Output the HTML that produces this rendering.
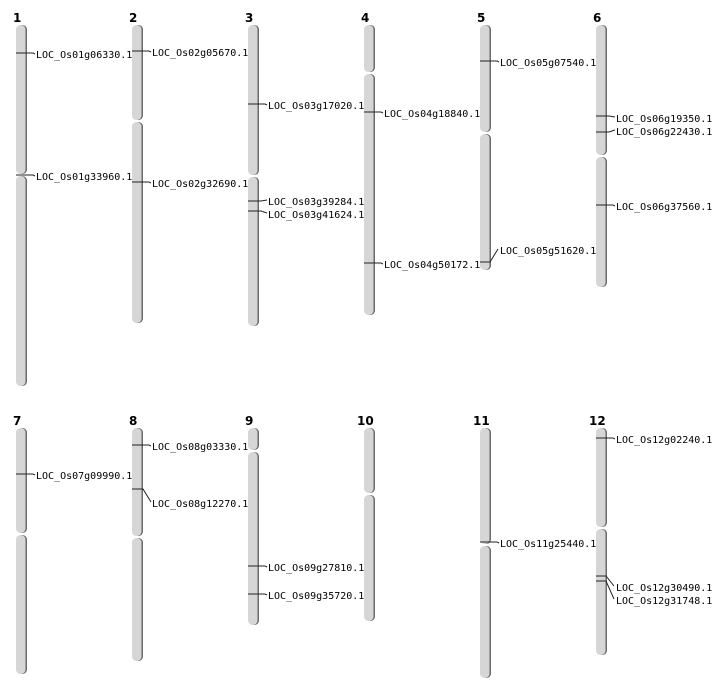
<!DOCTYPE html>
<html><head><meta charset="utf-8"><style>
html,body{margin:0;padding:0;background:#fff;width:712px;height:700px;overflow:hidden}
text{font-family:"DejaVu Sans Mono","Liberation Mono",monospace;font-size:10px;fill:#000}
.n{font-family:"DejaVu Sans","Liberation Sans",sans-serif;font-weight:bold;font-size:12px}
.s{fill:#6a6a6a}.c{fill:#d6d6d6}
polyline{fill:none;stroke:#222;stroke-width:1}
</style></head><body>
<svg width="712" height="700" xmlns="http://www.w3.org/2000/svg">
<g id="chroms">
<!-- row1 -->
<rect class="s" x="17.5" y="25" width="9.5" height="149" rx="4.5"/><rect class="c" x="16" y="25" width="9.5" height="149" rx="4.5"/>
<rect class="s" x="17.5" y="176" width="9.5" height="210" rx="4.5"/><rect class="c" x="16" y="176" width="9.5" height="210" rx="4.5"/>
<rect class="s" x="133.5" y="25" width="9.5" height="95" rx="4.5"/><rect class="c" x="132" y="25" width="9.5" height="95" rx="4.5"/>
<rect class="s" x="133.5" y="122" width="9.5" height="201" rx="4.5"/><rect class="c" x="132" y="122" width="9.5" height="201" rx="4.5"/>
<rect class="s" x="249.5" y="25" width="9.5" height="150" rx="4.5"/><rect class="c" x="248" y="25" width="9.5" height="150" rx="4.5"/>
<rect class="s" x="249.5" y="177" width="9.5" height="149" rx="4.5"/><rect class="c" x="248" y="177" width="9.5" height="149" rx="4.5"/>
<rect class="s" x="365.5" y="25" width="9.5" height="47" rx="4.5"/><rect class="c" x="364" y="25" width="9.5" height="47" rx="4.5"/>
<rect class="s" x="365.5" y="74" width="9.5" height="241" rx="4.5"/><rect class="c" x="364" y="74" width="9.5" height="241" rx="4.5"/>
<rect class="s" x="481.5" y="25" width="9.5" height="107" rx="4.5"/><rect class="c" x="480" y="25" width="9.5" height="107" rx="4.5"/>
<rect class="s" x="481.5" y="134" width="9.5" height="136" rx="4.5"/><rect class="c" x="480" y="134" width="9.5" height="136" rx="4.5"/>
<rect class="s" x="597.5" y="25" width="9.5" height="130" rx="4.5"/><rect class="c" x="596" y="25" width="9.5" height="130" rx="4.5"/>
<rect class="s" x="597.5" y="157" width="9.5" height="130" rx="4.5"/><rect class="c" x="596" y="157" width="9.5" height="130" rx="4.5"/>
<!-- row2 -->
<rect class="s" x="17.5" y="428" width="9.5" height="105" rx="4.5"/><rect class="c" x="16" y="428" width="9.5" height="105" rx="4.5"/>
<rect class="s" x="17.5" y="535" width="9.5" height="139" rx="4.5"/><rect class="c" x="16" y="535" width="9.5" height="139" rx="4.5"/>
<rect class="s" x="133.5" y="428" width="9.5" height="108" rx="4.5"/><rect class="c" x="132" y="428" width="9.5" height="108" rx="4.5"/>
<rect class="s" x="133.5" y="538" width="9.5" height="123" rx="4.5"/><rect class="c" x="132" y="538" width="9.5" height="123" rx="4.5"/>
<rect class="s" x="249.5" y="428" width="9.5" height="22" rx="4.5"/><rect class="c" x="248" y="428" width="9.5" height="22" rx="4.5"/>
<rect class="s" x="249.5" y="452" width="9.5" height="173" rx="4.5"/><rect class="c" x="248" y="452" width="9.5" height="173" rx="4.5"/>
<rect class="s" x="365.5" y="428" width="9.5" height="65" rx="4.5"/><rect class="c" x="364" y="428" width="9.5" height="65" rx="4.5"/>
<rect class="s" x="365.5" y="495" width="9.5" height="126" rx="4.5"/><rect class="c" x="364" y="495" width="9.5" height="126" rx="4.5"/>
<rect class="s" x="481.5" y="428" width="9.5" height="116" rx="4.5"/><rect class="c" x="480" y="428" width="9.5" height="116" rx="4.5"/>
<rect class="s" x="481.5" y="546" width="9.5" height="132" rx="4.5"/><rect class="c" x="480" y="546" width="9.5" height="132" rx="4.5"/>
<rect class="s" x="597.5" y="428" width="9.5" height="99" rx="4.5"/><rect class="c" x="596" y="428" width="9.5" height="99" rx="4.5"/>
<rect class="s" x="597.5" y="529" width="9.5" height="126" rx="4.5"/><rect class="c" x="596" y="529" width="9.5" height="126" rx="4.5"/>
</g>
<text class="n" x="13" y="22">1</text><text class="n" x="129" y="22">2</text><text class="n" x="245" y="22">3</text>
<text class="n" x="361" y="22">4</text><text class="n" x="477" y="22">5</text><text class="n" x="593" y="22">6</text>
<text class="n" x="13" y="425">7</text><text class="n" x="129" y="425">8</text><text class="n" x="245" y="425">9</text>
<text class="n" x="357" y="425">10</text><text class="n" x="473" y="425">11</text><text class="n" x="589" y="425">12</text>

<polyline points="16,53 33,53 35,54"/><text x="36" y="58">LOC_Os01g06330.1</text>
<polyline points="16,175 33,175 35,176"/><text x="36" y="180">LOC_Os01g33960.1</text>
<polyline points="132,51 149,51 151,52"/><text x="152" y="56">LOC_Os02g05670.1</text>
<polyline points="132,182 149,182 151,183"/><text x="152" y="187">LOC_Os02g32690.1</text>
<polyline points="248,104 265,104 267,105"/><text x="268" y="109">LOC_Os03g17020.1</text>
<polyline points="248,201 261,201 267,200"/><text x="268" y="205">LOC_Os03g39284.1</text>
<polyline points="248,211 261,211 267,213"/><text x="268" y="218">LOC_Os03g41624.1</text>
<polyline points="364,112 381,112 383,113"/><text x="384" y="117">LOC_Os04g18840.1</text>
<polyline points="364,263 381,263 383,264"/><text x="384" y="268">LOC_Os04g50172.1</text>
<polyline points="480,61 497,61 499,62"/><text x="500" y="66">LOC_Os05g07540.1</text>
<polyline points="480,262 490,262 498,249"/><text x="500" y="254">LOC_Os05g51620.1</text>
<polyline points="596,116 609,116 615,117"/><text x="616" y="122">LOC_Os06g19350.1</text>
<polyline points="596,132 609,132 615,130"/><text x="616" y="135">LOC_Os06g22430.1</text>
<polyline points="596,205 613,205 615,206"/><text x="616" y="210">LOC_Os06g37560.1</text>
<polyline points="16,474 33,474 35,475"/><text x="36" y="479">LOC_Os07g09990.1</text>
<polyline points="132,445 149,445 151,446"/><text x="152" y="450">LOC_Os08g03330.1</text>
<polyline points="132,489 143,489 151,502"/><text x="152" y="507">LOC_Os08g12270.1</text>
<polyline points="248,566 265,566 267,567"/><text x="268" y="571">LOC_Os09g27810.1</text>
<polyline points="248,594 265,594 267,595"/><text x="268" y="599">LOC_Os09g35720.1</text>
<polyline points="480,542 497,542 499,543"/><text x="500" y="547">LOC_Os11g25440.1</text>
<polyline points="596,438 613,438 615,439"/><text x="616" y="443">LOC_Os12g02240.1</text>
<polyline points="596,576 606,576 614,586"/><text x="616" y="591">LOC_Os12g30490.1</text>
<polyline points="596,581 606,581 614,599"/><text x="616" y="604">LOC_Os12g31748.1</text>
</svg>
</body></html>
